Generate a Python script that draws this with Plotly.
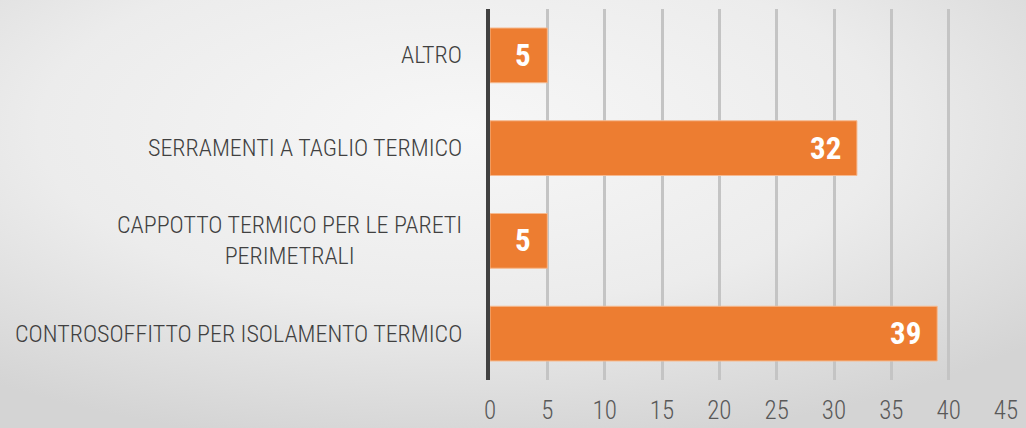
import base64
import plotly.graph_objects as go

# Survey answers: type of thermal upgrade
categories = [
    "CONTROSOFFITTO PER ISOLAMENTO TERMICO",
    "CAPPOTTO TERMICO PER LE PARETI<br>PERIMETRALI",
    "SERRAMENTI A TAGLIO TERMICO",
    "ALTRO",
]
values = [39, 5, 32, 5]
x_ticks = [0, 5, 10, 15, 20, 25, 30, 35, 40, 45]

W, H = 1026, 428
M = dict(l=490, r=20, t=9, b=48)
PW, PH = W - M["l"] - M["r"], H - M["t"] - M["b"]

FONT = "Roboto Condensed, Noto Sans Condensed, Liberation Sans Narrow, DejaVu Sans Condensed, sans-serif"
ORANGE = "#ED7D31"

# soft radial background behind the whole canvas
svg = f"""<svg xmlns='http://www.w3.org/2000/svg' width='{W}' height='{H}' viewBox='0 0 {W} {H}' preserveAspectRatio='none'>
<defs><radialGradient id='g' cx='0.45' cy='0.3' r='0.75' gradientUnits='objectBoundingBox'>
<stop offset='0' stop-color='#f7f7f7'/><stop offset='0.55' stop-color='#ececec'/><stop offset='1' stop-color='#d4d4d4'/>
</radialGradient></defs><rect width='{W}' height='{H}' fill='url(#g)'/></svg>"""
bg_src = "data:image/svg+xml;base64," + base64.b64encode(svg.encode()).decode()

fig = go.Figure(
    go.Bar(
        y=categories,
        x=values,
        orientation="h",
        width=0.59,
        marker=dict(color=ORANGE, line=dict(color="#F6B98E", width=1)),
        hoverinfo="x+y",
    )
)

# value labels at the end of each bar
for cat, v in zip(categories, values):
    fig.add_annotation(
        x=v, xref="x", y=cat, yref="y",
        text=f"<b>{v}</b>", showarrow=False,
        xanchor="right", yanchor="middle", xshift=-14,
        font=dict(family=FONT, size=31, color="white"),
    )

# category labels, centred per line and right-aligned to the axis
for cat in categories:
    fig.add_annotation(
        x=0, xref="paper", y=cat, yref="y",
        text=cat, showarrow=False,
        xanchor="right", yanchor="middle", align="center",
        xshift=-26,
        font=dict(family=FONT, size=24, color="#404040", weight=300),
    )

fig.update_layout(
    width=W, height=H,
    margin=M,
    paper_bgcolor="#e6e6e6",
    plot_bgcolor="rgba(0,0,0,0)",
    showlegend=False,
    bargap=0.41,
    images=[dict(
        source=bg_src, xref="paper", yref="paper",
        x=-M["l"] / PW, y=1 + M["t"] / PH,
        sizex=W / PW, sizey=H / PH,
        xanchor="left", yanchor="top", sizing="stretch", layer="below",
    )],
    xaxis=dict(
        range=[0, 45], tickvals=x_ticks, ticktext=[str(t) for t in x_ticks],
        showgrid=True, gridcolor="#c4c4c4", gridwidth=2.5,
        zeroline=False, showline=False, ticks="",
        tickfont=dict(family=FONT, size=25, color="#595959", weight=300),
        ticklabelstandoff=13, automargin=False,
    ),
    yaxis=dict(
        categoryorder="array", categoryarray=categories,
        showticklabels=False, showgrid=False, zeroline=False,
        showline=True, linecolor="#404040", linewidth=3.5,
        range=[-0.5, 3.5], automargin=False,
    ),
)

fig.write_html("out.html")
